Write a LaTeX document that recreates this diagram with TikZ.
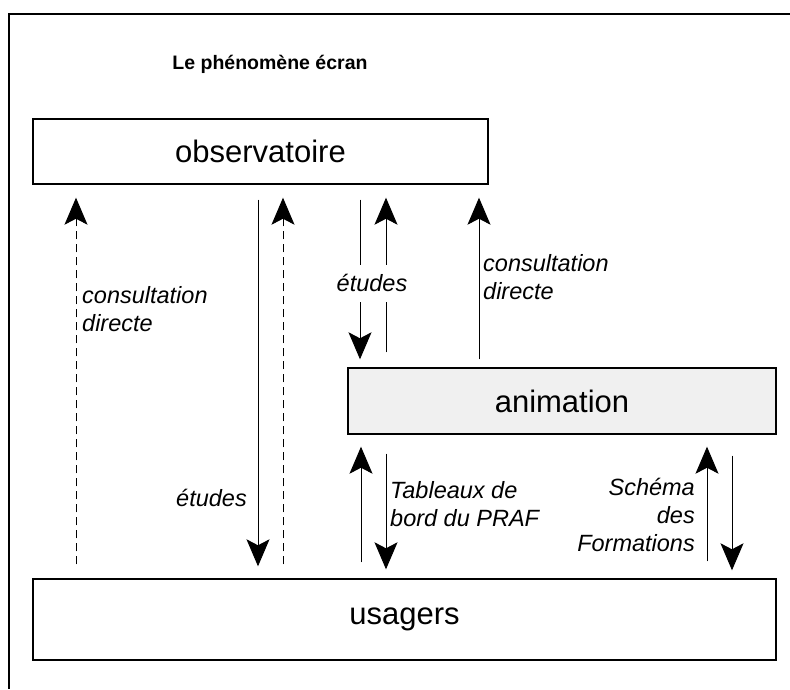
\documentclass[tikz,border=0pt]{standalone}
\usepackage{fontspec}
\setmainfont{Liberation Sans}
\usetikzlibrary{arrows.meta,calc}
\begin{document}
\begin{tikzpicture}[x=1pt,y=-1pt,
  box/.style={draw,line width=1.4pt,inner sep=0pt,font=\fontsize{31}{37}\selectfont},
  lbl/.style={font=\fontsize{23.5}{28}\selectfont\itshape,inner sep=0pt},
  arr/.style={line width=0.9pt,-{Stealth[length=27pt,width=23pt,inset=6pt]}},
  darr/.style={arr,dash pattern=on 8pt off 5pt}]
\useasboundingbox (0,0) rectangle (790,689);
\fill[white] (0,0) rectangle (790,689);
\draw[line width=1.2pt] (790,14) -- (9,14) -- (9,689);
\node[font=\fontsize{19.5}{23}\selectfont\bfseries] (title) at (270,64) {Le phénomène écran};
\node[box,minimum width=455pt,minimum height=65pt] (obs) at (260.5,151.5) {observatoire};
\node[box,fill=black!6,minimum width=428pt,minimum height=66pt] (anim) at (562,401) {animation};
\node[box,minimum width=743pt,minimum height=81pt] (usag) at (404.5,619.5) {usagers};
% x positions of the connectors
\coordinate (c1) at (76,0);
\coordinate (c2) at (258,0);
\coordinate (c3) at (283,0);
\coordinate (c4) at (360,0);
\coordinate (c5) at (386,0);
\coordinate (c6) at (479,0);
\coordinate (c7) at (361,0);
\coordinate (c8) at (386,0);
\coordinate (c9) at (707,0);
\coordinate (c10) at (732,0);
% connectors
\draw[darr] ($(c1|-usag.north)+(0,-14)$) -- ($(c1|-obs.south)+(0,13)$);
\draw[arr] ($(c2|-obs.south)+(0,15)$) -- ($(c2|-usag.north)+(0,-12)$);
\draw[darr] ($(c3|-usag.north)+(0,-14)$) -- ($(c3|-obs.south)+(0,13)$);
\draw[arr] ($(c4|-obs.south)+(0,15)$) -- ($(c4|-anim.north)+(0,-8)$);
\draw[arr] ($(c5|-anim.north)+(0,-15)$) -- ($(c5|-obs.south)+(0,13)$);
\draw[arr] ($(c6|-anim.north)+(0,-8)$) -- ($(c6|-obs.south)+(0,13)$);
\draw[arr] ($(c7|-usag.north)+(0,-16)$) -- ($(c7|-anim.south)+(0,12)$);
\draw[arr] ($(c8|-anim.south)+(0,19)$) -- ($(c8|-usag.north)+(0,-9)$);
\draw[arr] ($(c9|-usag.north)+(0,-17)$) -- ($(c9|-anim.south)+(0,12)$);
\draw[arr] ($(c10|-anim.south)+(0,21)$) -- ($(c10|-usag.north)+(0,-8)$);
% labels
\node[lbl,align=left,anchor=west] (lc1) at (82,309) {consultation\\directe};
\node[lbl,fill=white,minimum height=37pt] (le1) at (372,283) {études};
\node[lbl,align=left,anchor=west] (lc2) at (483,277.5) {consultation\\directe};
\node[lbl,anchor=east] (le2) at (247,498) {études};
\node[lbl,align=left,anchor=west] (ltb) at (390,504) {Tableaux de\\bord du PRAF};
\node[lbl,align=right,anchor=east] (lsf) at (695,515) {Schéma\\des\\Formations};
\end{tikzpicture}
\end{document}
